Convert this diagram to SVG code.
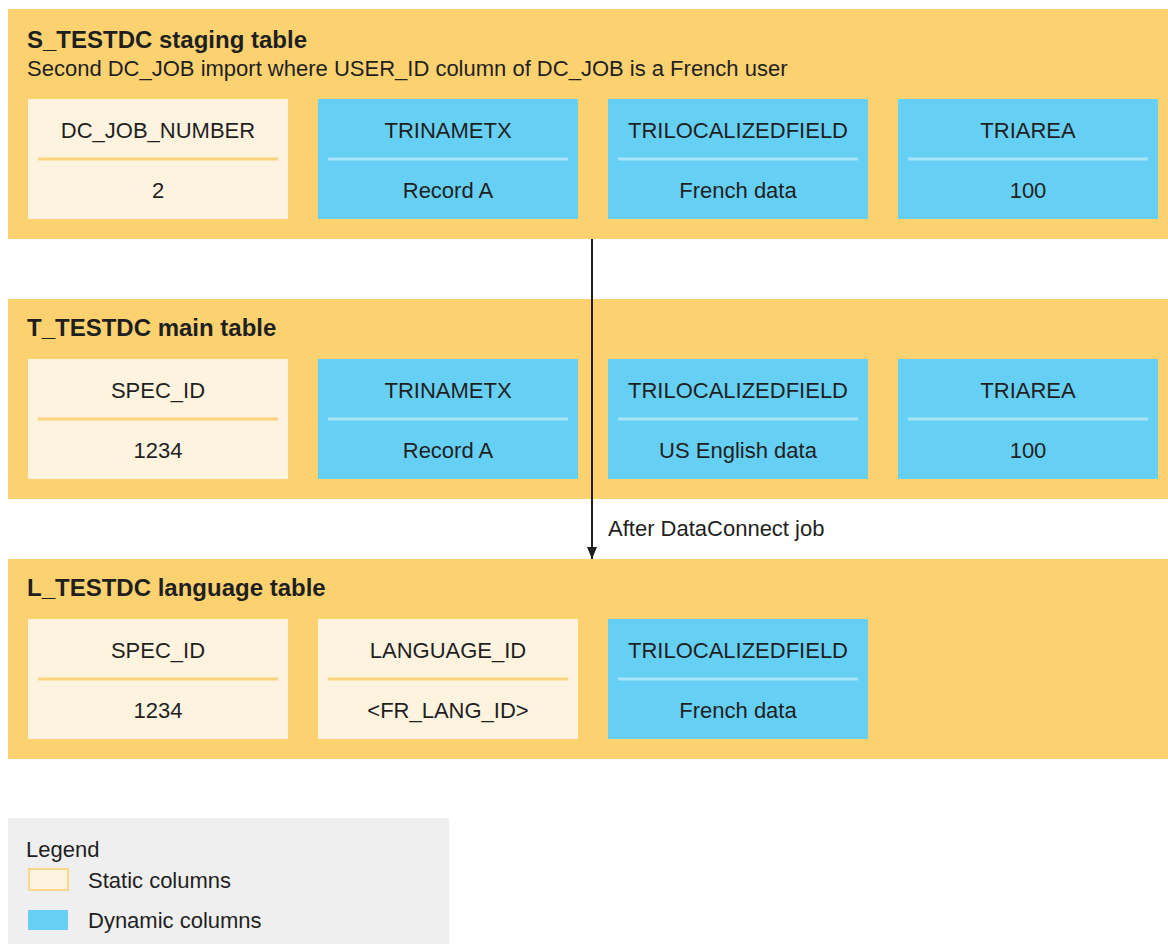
<svg xmlns="http://www.w3.org/2000/svg" width="1168" height="944" viewBox="0 0 1168 944">
<style>
text{font-family:"Liberation Sans",Arial,sans-serif;fill:#1f1f1f}
.panel{fill:#fcd271}
.title{font-size:24px;font-weight:bold}
.sub{font-size:22px}
.cell{font-size:22px;text-anchor:middle}
.static{fill:#fef3df}
.dyn{fill:#66cff4}
.sdiv{stroke:#f9d47e;stroke-width:3}
.ddiv{stroke:#a9e3f8;stroke-width:3}
.lbl{font-size:22px}
</style>
<defs>
<marker id="ah" viewBox="0 0 12 10" refX="12" refY="5" markerWidth="12" markerHeight="10" markerUnits="userSpaceOnUse" orient="auto">
<path d="M0,0 L12,5 L0,10 Z" fill="#1f1f1f"/>
</marker>
</defs>

<g id="panel-s">
<rect class="panel" x="8" y="9" width="1160" height="230"/>
<text class="title" x="27" y="48">S_TESTDC staging table</text>
<text class="sub" x="27" y="76">Second DC_JOB import where USER_ID column of DC_JOB is a French user</text>
</g>
<g id="s-dcjob"><rect class="static" x="28" y="99" width="260" height="120"/><line class="sdiv" x1="38" y1="159" x2="278" y2="159"/><text class="cell" x="158" y="138">DC_JOB_NUMBER</text><text class="cell" x="158" y="198">2</text></g>
<g id="s-triname"><rect class="dyn" x="318" y="99" width="260" height="120"/><line class="ddiv" x1="328" y1="159" x2="568" y2="159"/><text class="cell" x="448" y="138">TRINAMETX</text><text class="cell" x="448" y="198">Record A</text></g>
<g id="s-triloc"><rect class="dyn" x="608" y="99" width="260" height="120"/><line class="ddiv" x1="618" y1="159" x2="858" y2="159"/><text class="cell" x="738" y="138">TRILOCALIZEDFIELD</text><text class="cell" x="738" y="198">French data</text></g>
<g id="s-triarea"><rect class="dyn" x="898" y="99" width="260" height="120"/><line class="ddiv" x1="908" y1="159" x2="1148" y2="159"/><text class="cell" x="1028" y="138">TRIAREA</text><text class="cell" x="1028" y="198">100</text></g>

<g id="panel-t">
<rect class="panel" x="8" y="299" width="1160" height="200"/>
<text class="title" x="27" y="336">T_TESTDC main table</text>
</g>
<g id="t-spec"><rect class="static" x="28" y="359" width="260" height="120"/><line class="sdiv" x1="38" y1="419" x2="278" y2="419"/><text class="cell" x="158" y="398">SPEC_ID</text><text class="cell" x="158" y="458">1234</text></g>
<g id="t-triname"><rect class="dyn" x="318" y="359" width="260" height="120"/><line class="ddiv" x1="328" y1="419" x2="568" y2="419"/><text class="cell" x="448" y="398">TRINAMETX</text><text class="cell" x="448" y="458">Record A</text></g>
<g id="t-triloc"><rect class="dyn" x="608" y="359" width="260" height="120"/><line class="ddiv" x1="618" y1="419" x2="858" y2="419"/><text class="cell" x="738" y="398">TRILOCALIZEDFIELD</text><text class="cell" x="738" y="458">US English data</text></g>
<g id="t-triarea"><rect class="dyn" x="898" y="359" width="260" height="120"/><line class="ddiv" x1="908" y1="419" x2="1148" y2="419"/><text class="cell" x="1028" y="398">TRIAREA</text><text class="cell" x="1028" y="458">100</text></g>

<g id="panel-l">
<rect class="panel" x="8" y="559" width="1160" height="200"/>
<text class="title" x="27" y="596">L_TESTDC language table</text>
</g>
<g id="l-spec"><rect class="static" x="28" y="619" width="260" height="120"/><line class="sdiv" x1="38" y1="679" x2="278" y2="679"/><text class="cell" x="158" y="658">SPEC_ID</text><text class="cell" x="158" y="718">1234</text></g>
<g id="l-lang"><rect class="static" x="318" y="619" width="260" height="120"/><line class="sdiv" x1="328" y1="679" x2="568" y2="679"/><text class="cell" x="448" y="658">LANGUAGE_ID</text><text class="cell" x="448" y="718">&lt;FR_LANG_ID&gt;</text></g>
<g id="l-triloc"><rect class="dyn" x="608" y="619" width="260" height="120"/><line class="ddiv" x1="618" y1="679" x2="858" y2="679"/><text class="cell" x="738" y="658">TRILOCALIZEDFIELD</text><text class="cell" x="738" y="718">French data</text></g>

<g id="connectors">
<line x1="592" y1="239" x2="592" y2="559" stroke="#1f1f1f" stroke-width="2" marker-end="url(#ah)"/>
<text class="lbl" x="608" y="536">After DataConnect job</text>
</g>

<g id="legend">
<rect x="8" y="818" width="441" height="126" fill="#efefef"/>
<text class="lbl" x="26" y="857">Legend</text>
<rect x="29" y="869" width="39" height="21" fill="#fef3df" stroke="#fad78a" stroke-width="2"/>
<text class="lbl" x="88" y="888">Static columns</text>
<rect x="28" y="910" width="40" height="20" fill="#66cff4"/>
<text class="lbl" x="88" y="928">Dynamic columns</text>
</g>
</svg>
